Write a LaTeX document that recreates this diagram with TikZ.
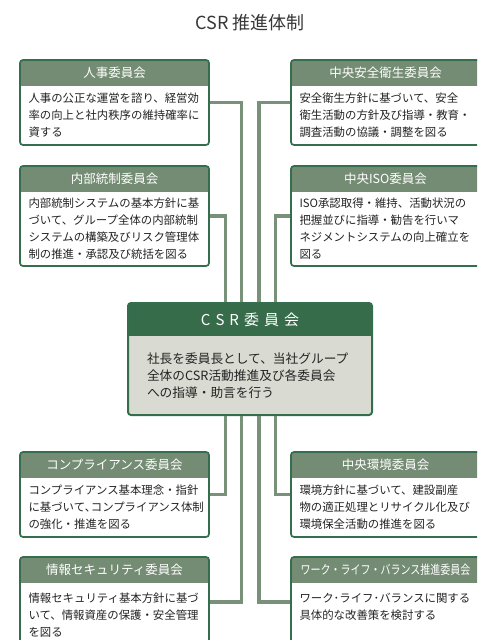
\documentclass[tikz,border=0pt]{standalone}
\usepackage{fontspec}
\setmainfont{Noto Sans CJK JP}
\usepackage{graphicx}
\usetikzlibrary{positioning,fit}
\definecolor{boxline}{RGB}{52,110,76}
\definecolor{headfill}{RGB}{116,140,115}
\definecolor{csrhead}{RGB}{55,108,75}
\definecolor{csrbody}{RGB}{217,219,210}
\definecolor{linkgreen}{RGB}{122,145,121}
\definecolor{textgray}{RGB}{35,35,35}
\definecolor{titlegray}{RGB}{55,55,55}
\newcommand{\csrsp}{\hspace{5pt}}
\tikzstyle{Head}=[rectangle, minimum width=189pt, minimum height=26pt, inner sep=0pt, outer sep=0pt, fill=headfill, text=white, font=\fontsize{12.5}{15}\selectfont]
\tikzstyle{Body}=[rectangle, text width=172pt, inner xsep=8.5pt, inner ysep=0pt, outer sep=0pt, align=left, text=textgray, font=\fontsize{11.4}{17}\selectfont]
\tikzstyle{Frame}=[rectangle, draw=boxline, line width=1.7pt, rounded corners=3pt, inner sep=0pt]
\tikzstyle{Link}=[draw=linkgreen, line width=3.3pt]

\begin{document}
\begin{tikzpicture}[x=1pt, y=-1pt]
    \clip (0,0) rectangle (477,640);
    \node[font=\fontsize{18}{22}\selectfont, text=titlegray] (title) at (250,23) {CSR 推進体制};

    \path
    (20,60) node[Head, anchor=north west] (jinjiH) {人事委員会}
    (20,166) node[Head, anchor=north west] (naibuH) {内部統制委員会}
    (291,60) node[Head, anchor=north west] (anzenH) {中央安全衛生委員会}
    (291,166) node[Head, anchor=north west] (isoH) {中央ISO委員会};

    \path
    (20,452) node[Head, anchor=north west] (compH) {コンプライアンス委員会}
    (20,557) node[Head, anchor=north west] (johoH) {情報セキュリティ委員会}
    (291,452) node[Head, anchor=north west] (kankyoH) {中央環境委員会}
    (291,557) node[Head, anchor=north west] (wlbH) {\scalebox{0.8}[1]{ワーク・ライフ・バランス推進委員会}};

    \node[Body, below=0pt of jinjiH, minimum height=59pt] (jinjiB) {人事の公正な運営を諮り、経営効\\率の向上と社内秩序の維持確率に\\資する};
    \node[Body, below=0pt of naibuH, minimum height=74pt] (naibuB) {内部統制システムの基本方針に基\\づいて、グループ全体の内部統制\\システムの構築及びリスク管理体\\制の推進・承認及び統括を図る};
    \node[Body, below=0pt of anzenH, minimum height=59pt] (anzenB) {安全衛生方針に基づいて、安全\\衛生活動の方針及び指導・教育・\\調査活動の協議・調整を図る};
    \node[Body, below=0pt of isoH, minimum height=74pt] (isoB) {ISO承認取得・維持、活動状況の\\把握並びに指導・勧告を行いマ\\ネジメントシステムの向上確立を\\図る};
    \node[Body, below=0pt of compH, minimum height=59pt] (compB) {コンプライアンス基本理念・指針\\に基づいて､コンプライアンス体制\\の強化・推進を図る};
    \node[Body, below=0pt of johoH, minimum height=64pt] (johoB) {情報セキュリティ基本方針に基づ\\いて、情報資産の保護・安全管理\\を図る};
    \node[Body, below=0pt of kankyoH, minimum height=59pt] (kankyoB) {環境方針に基づいて、建設副産\\物の適正処理とリサイクル化及び\\環境保全活動の推進を図る};
    \node[Body, below=0pt of wlbH, minimum height=64pt] (wlbB) {ワーク･ライフ･バランスに関する\\具体的な改善策を検討する\\~};

    \node[Frame, fit=(jinjiH)(jinjiB)] (jinji) {};
    \node[Frame, fit=(naibuH)(naibuB)] (naibu) {};
    \node[Frame, fit=(anzenH)(anzenB)] (anzen) {};
    \node[Frame, fit=(isoH)(isoB)] (iso) {};
    \node[Frame, fit=(compH)(compB)] (comp) {};
    \node[Frame, fit=(johoH)(johoB)] (joho) {};
    \node[Frame, fit=(kankyoH)(kankyoB)] (kankyo) {};
    \node[Frame, fit=(wlbH)(wlbB)] (wlb) {};

    \node[Head, fill=csrhead, minimum width=244pt, minimum height=33pt, font=\fontsize{15}{18}\selectfont, anchor=north] (csrH) at (250,303) {C\csrsp S\csrsp R\csrsp 委\csrsp 員\csrsp 会};
    \node[Body, fill=csrbody, text width=206pt, inner xsep=19pt, minimum height=79pt, font=\fontsize{12.7}{16.7}\selectfont, below=0pt of csrH] (csrB) {社長を委員長として、当社グループ\\全体のCSR活動推進及び各委員会\\への指導・助言を行う};
    \node[Frame, fit=(csrH)(csrB), line width=2pt] (csr) {};

    \draw[Link] ([xshift=-8.5pt]csr.north) |- (jinji.east);
    \draw[Link] ([xshift=-24.5pt]csr.north) |- (naibu.east);
    \draw[Link] ([xshift=9pt]csr.north) |- (anzen.west);
    \draw[Link] ([xshift=25.5pt]csr.north) |- (iso.west);
    \draw[Link] ([xshift=-24.5pt]csr.south) |- (comp.east);
    \draw[Link] ([xshift=-8.5pt]csr.south) |- (joho.east);
    \draw[Link] ([xshift=25.5pt]csr.south) |- (kankyo.west);
    \draw[Link] ([xshift=9pt]csr.south) |- (wlb.west);
\end{tikzpicture}
\end{document}
